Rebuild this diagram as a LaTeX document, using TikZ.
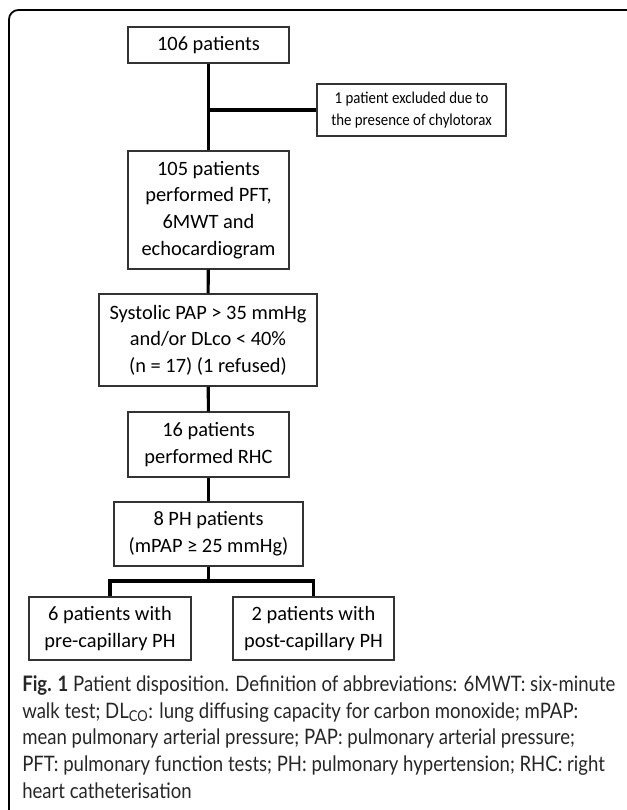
\documentclass[tikz,border=0pt]{standalone}
\usepackage{fontspec}
\setmainfont{Carlito}
\newfontfamily\capfont[FakeStretch=0.87]{Lato}
\newfontfamily\narrowfont[FakeStretch=0.9]{Carlito}
\usetikzlibrary{calc, positioning}

\def\px{0.75pt}

\begin{document}
\begin{tikzpicture}[x=0.75pt,y=-0.75pt,
  box/.style={draw=black!80,line width=0.8pt,align=center,inner sep=0pt,
    font=\fontsize{15.3}{20}\selectfont},
  boxsize/.style 2 args={minimum width=#1*\px,minimum height=#2*\px},
  link/.style={line width=2.3pt,black}]
\useasboundingbox (0,0) rectangle (627,810);
\draw[line width=1.3pt,rounded corners=7pt] (645,10) -- (9,10) -- (9,830);
\node[box,boxsize={161}{36}] (n106) at (208.5,45) {106 patients};
\node[box,boxsize={189}{52},font=\narrowfont\fontsize{12.4}{16}\selectfont] (excl) at (411.5,110)
  {1 patient excluded due to\\the presence of chylotorax};
\node[box,boxsize={161}{118}] (n105) at (208.5,210)
  {105 patients\\performed PFT,\\6MWT and\\echocardiogram};
\node[box,boxsize={218}{92}] (sys) at (208,340)
  {Systolic PAP > 35 mmHg\\and/or DLco < 40\%\\(n = 17) (1 refused)};
\node[box,boxsize={161}{65}] (rhc) at (208.5,444.5) {16 patients\\performed RHC};
\node[box,boxsize={189}{64}] (ph) at (208.5,534) {8 PH patients\\(mPAP ≥ 25 mmHg)};
\node[box,boxsize={162}{63}] (pre) at (110,628.5) {6 patients with\\pre-capillary PH};
\node[box,boxsize={161}{63}] (post) at (313.5,628.5) {2 patients with\\post-capillary PH};
\coordinate (split) at (208.5,581);
\draw[link] (n106) -- (n105);
\draw[link] (n106.south |- excl.west) -- (excl.west);
\draw[link] (n105) -- (sys);
\draw[link] (sys) -- (rhc);
\draw[link] (rhc) -- (ph);
\draw[link] (ph) -- (split);
\draw[link] (pre.north) |- (split) -| (post.north);
\node[anchor=north west,align=left,inner sep=0pt,text=black!85,
  font=\capfont\fontsize{16}{20.2}\selectfont] (cap) at (22,675)
  {\textbf{Fig. 1} Patient disposition. Definition of abbreviations: 6MWT: six-minute\\
   walk test; DL\textsubscript{CO}: lung diffusing capacity for carbon monoxide; mPAP:\\
   mean pulmonary arterial pressure; PAP: pulmonary arterial pressure;\\
   PFT: pulmonary function tests; PH: pulmonary hypertension; RHC: right\\
   heart catheterisation};
\end{tikzpicture}
\end{document}
